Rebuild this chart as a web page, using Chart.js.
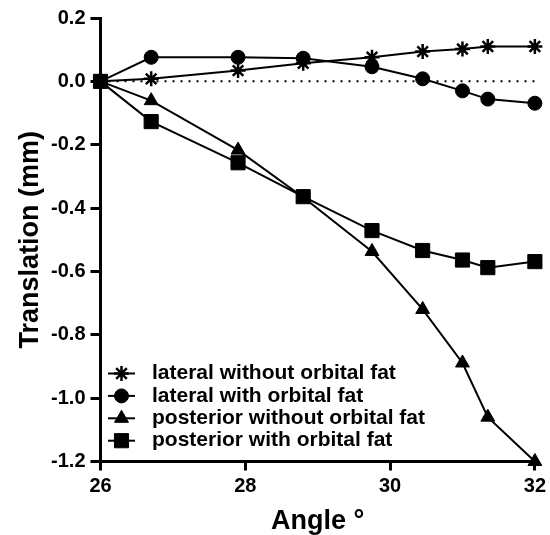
<!DOCTYPE html>
<html>
<head>
<meta charset="utf-8">
<script src="https://cdn.jsdelivr.net/npm/chart.js@4/dist/chart.umd.min.js"></script>
<style>
  html, body { margin: 0; padding: 0; background: #fff; }
  #wrap { width: 550px; height: 535px; }
</style>
</head>
<body>
<div id="wrap"><canvas id="myChart" width="550" height="535"></canvas></div>
<script>
// angles (deg) shared by all series
const angles = [26, 26.7, 27.9, 28.8, 29.75, 30.45, 31.0, 31.35, 32];

const lateralWithout   = [0, 0.008, 0.034, 0.057, 0.076, 0.094, 0.102, 0.110, 0.110];
const lateralWith      = [0, 0.076, 0.076, 0.073, 0.046, 0.008, -0.030, -0.056, -0.069];
const posteriorWithout = [0, -0.061, -0.217, -0.366, -0.537, -0.720, -0.889, -1.060, -1.200];
const posteriorWith    = [0, -0.127, -0.257, -0.364, -0.471, -0.534, -0.564, -0.588, -0.569];

const seriesLabels = [
    'lateral without orbital fat',
    'lateral with orbital fat',
    'posterior without orbital fat',
    'posterior with orbital fat'
];
const xTicks = [26, 28, 30, 32];

const FONT = "'Liberation Sans', Arial, Helvetica, sans-serif";

function toPoints(ys) {
    return ys.map((y, i) => ({ x: angles[i], y: y }));
}

const markers = [
    { style: 'star', radius: 7.5, borderWidth: 2.5 },
    { style: 'circle', radius: 7, borderWidth: 1 },
    { style: 'triangle', radius: 8, borderWidth: 1 },
    { style: 'rect', radius: 10, borderWidth: 1 }
];

const seriesData = [lateralWithout, lateralWith, posteriorWithout, posteriorWith];

const datasets = seriesData.map((ys, i) => ({
    label: seriesLabels[i],
    data: toPoints(ys),
    borderColor: '#000',
    backgroundColor: '#000',
    borderWidth: 2,
    pointStyle: markers[i].style,
    pointRadius: markers[i].radius,
    pointBorderWidth: markers[i].borderWidth,
    pointBackgroundColor: '#000',
    pointBorderColor: '#000',
    tension: 0,
    clip: false,
    order: 1
}));

// dotted zero line
datasets.push({
    label: 'zero',
    data: [{ x: 26, y: 0 }, { x: 32, y: 0 }],
    borderColor: '#000',
    borderWidth: 2,
    borderDash: [2, 6],
    pointRadius: 0,
    order: 10
});

// legend drawn inside the plot, bottom left
const insideLegend = {
    id: 'insideLegend',
    afterDraw(chart) {
        const ctx = chart.ctx;
        ctx.save();
        ctx.font = 'bold 21px ' + FONT;
        ctx.textBaseline = 'middle';
        ctx.fillStyle = '#000';
        seriesLabels.forEach((label, i) => {
            const y = 373.5 + i * 22.4;
            ctx.strokeStyle = '#000';
            ctx.lineWidth = 2;
            ctx.beginPath();
            ctx.moveTo(108, y);
            ctx.lineTo(135, y);
            ctx.stroke();
            ctx.fillStyle = '#000';
            ctx.lineWidth = markers[i].borderWidth;
            Chart.helpers.drawPoint(ctx, {
                pointStyle: markers[i].style,
                radius: markers[i].radius,
                rotation: 0,
                borderWidth: markers[i].borderWidth
            }, 121.5, y);
            ctx.fillStyle = '#000';
            ctx.fillText(label, 152, y);
        });
        ctx.restore();
    }
};

const ctx = document.getElementById('myChart').getContext('2d');
new Chart(ctx, {
    type: 'line',
    data: { datasets: datasets },
    options: {
        responsive: false,
        animation: false,
        layout: { padding: { left: 0, right: 13, top: 18, bottom: 0 } },
        plugins: {
            legend: { display: false },
            tooltip: { enabled: false }
        },
        scales: {
            x: {
                type: 'linear',
                min: 26,
                max: 32,
                afterBuildTicks: (scale) => {
                    scale.ticks = xTicks.map(v => ({ value: v }));
                },
                afterFit: (scale) => { scale.height = 73.5; },
                grid: {
                    drawOnChartArea: false,
                    drawTicks: true,
                    tickLength: 9,
                    tickWidth: 3,
                    tickColor: '#000'
                },
                border: { color: '#000', width: 3 },
                ticks: {
                    color: '#000',
                    padding: 4,
                    maxRotation: 0,
                    font: { family: FONT, size: 20, weight: 'bold' }
                },
                title: {
                    display: true,
                    text: 'Angle °',
                    color: '#000',
                    font: { family: FONT, size: 27, weight: 'bold', lineHeight: 1 },
                    padding: { top: 0, bottom: 0 }
                }
            },
            y: {
                type: 'linear',
                min: -1.2,
                max: 0.2,
                afterFit: (scale) => { scale.width = 100.5; },
                grid: {
                    drawOnChartArea: false,
                    drawTicks: true,
                    tickLength: 10,
                    tickWidth: 3,
                    tickColor: '#000'
                },
                border: { color: '#000', width: 3 },
                ticks: {
                    stepSize: 0.2,
                    color: '#000',
                    padding: 5,
                    font: { family: FONT, size: 20, weight: 'bold' },
                    callback: function(value) {
                        if (Math.abs(value) < 1e-9) return '0.0';
                        return value.toFixed(1);
                    }
                },
                title: {
                    display: true,
                    text: 'Translation (mm)',
                    color: '#000',
                    font: { family: FONT, size: 27, weight: 'bold', lineHeight: 1.2 },
                    padding: { top: 14, bottom: 0 }
                }
            }
        }
    },
    plugins: [insideLegend]
});
</script>
</body>
</html>
